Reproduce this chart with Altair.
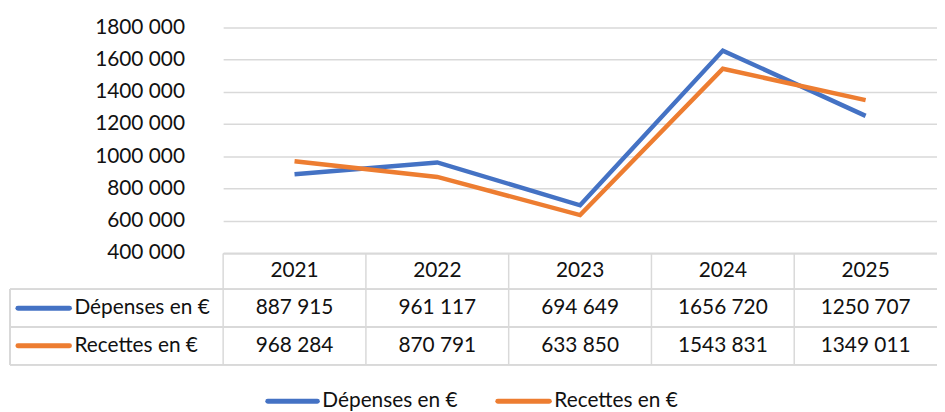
import altair as alt
import pandas as pd

years = ["2021", "2022", "2023", "2024", "2025"]
series = ["Dépenses en €", "Recettes en €"]
depenses = [887915, 961117, 694649, 1656720, 1250707]
recettes = [968284, 870791, 633850, 1543831, 1349011]
y_ticks = [400000, 600000, 800000, 1000000, 1200000, 1400000, 1600000, 1800000]
colors = ["#4472C4", "#ED7D31"]


def fmt(v):
    return f"{v // 1000} {v % 1000:03d}"


rows = []
for s, vals in zip(series, [depenses, recettes]):
    for y, v in zip(years, vals):
        rows.append({"year": y, "series": s, "value": v, "label": fmt(v)})
df = pd.DataFrame(rows)
years_df = pd.DataFrame({"year": years})
series_df = pd.DataFrame({"series": series})

FONT = "Lato"
FS = 21
W, H = 720, 227
GRID = "#d9d9d9"
TXT = "#111111"

xscale = alt.Scale(domain=years, paddingInner=0, paddingOuter=0)
color = alt.Color("series:N", scale=alt.Scale(domain=series, range=colors), legend=None)

base = alt.Chart(df)

lines = base.mark_line(strokeWidth=4.5, clip=False).encode(
    x=alt.X("year:N", scale=xscale, axis=None),
    y=alt.Y("value:Q", scale=alt.Scale(domain=[400000, 1800000], nice=False),
            axis=alt.Axis(values=y_ticks, title=None, domain=False, ticks=False,
                          labelPadding=39, labelFontSize=FS, labelFont=FONT,
                          labelColor=TXT, gridColor=GRID, gridWidth=1.5,
                          labelExpr="floor(datum.value / 1000) + ' 000'")),
    color=color,
    detail="series:N",
)

# Table geometry (pixels relative to plot origin)
HDR_TOP, R1_TOP, R2_TOP, TBL_BOT = 228, 264, 302, 340
HDR_Y, R1_Y, R2_Y = 246, 283, 321
TBL_LEFT = -215
BORDER_W = 1.5

hrule_hdr = alt.Chart(years_df).mark_rule(color=GRID, strokeWidth=BORDER_W).encode(
    x=alt.value(0), x2=alt.value(W), y=alt.value(HDR_TOP))
hrules = alt.layer(*[
    alt.Chart(years_df).mark_rule(color=GRID, strokeWidth=BORDER_W).encode(
        x=alt.value(TBL_LEFT), x2=alt.value(W), y=alt.value(yy))
    for yy in (R1_TOP, R2_TOP, TBL_BOT)
])
vrules = alt.Chart(years_df).mark_rule(color=GRID, strokeWidth=BORDER_W).encode(
    x=alt.X("year:N", scale=xscale, bandPosition=0, axis=None),
    y=alt.value(HDR_TOP), y2=alt.value(TBL_BOT))
vleft = alt.Chart(years_df).mark_rule(color=GRID, strokeWidth=BORDER_W).encode(
    x=alt.value(TBL_LEFT), y=alt.value(R1_TOP), y2=alt.value(TBL_BOT))

hdr_text = alt.Chart(years_df).mark_text(fontSize=FS, font=FONT, color=TXT, baseline="middle").encode(
    x=alt.X("year:N", scale=xscale, axis=None), y=alt.value(HDR_Y), text="year:N")

cell_layers = []
label_layers = []
for s, yy in zip(series, (R1_Y, R2_Y)):
    cell_layers.append(
        base.transform_filter(alt.datum.series == s).mark_text(
            fontSize=FS, font=FONT, color=TXT, baseline="middle").encode(
            x=alt.X("year:N", scale=xscale, axis=None), y=alt.value(yy), text="label:N"))
    sd = series_df[series_df.series == s]
    label_layers.append(
        alt.Chart(sd).mark_rule(strokeWidth=5, strokeCap="round").encode(
            x=alt.value(-207), x2=alt.value(-155), y=alt.value(yy), color=color))
    label_layers.append(
        alt.Chart(sd).mark_text(fontSize=FS, font=FONT, color=TXT, align="left", baseline="middle").encode(
            x=alt.value(-150), y=alt.value(yy), text="series:N"))

# Bottom legend
LEG_Y = 377
legend_layers = []
for s, (lx1, lx2, tx) in zip(series, [(45, 95, 100), (277, 329, 334)]):
    sd = series_df[series_df.series == s]
    legend_layers.append(
        alt.Chart(sd).mark_rule(strokeWidth=5, strokeCap="round").encode(
            x=alt.value(lx1), x2=alt.value(lx2), y=alt.value(LEG_Y), color=color))
    legend_layers.append(
        alt.Chart(sd).mark_text(fontSize=FS, font=FONT, color=TXT, align="left", baseline="middle").encode(
            x=alt.value(tx), y=alt.value(LEG_Y), text="series:N"))

chart = alt.layer(
    lines, hrule_hdr, hrules, vrules, vleft, hdr_text,
    *cell_layers, *label_layers, *legend_layers
).resolve_scale(color="shared").properties(
    width=W, height=H,
    padding={"left": 217, "top": 18, "right": 0, "bottom": 159},
    autosize=alt.AutoSizeParams(type="none"),
).configure_view(stroke=None).configure_axis(grid=True)

chart.save("out.html", embed_options={"renderer": "svg", "actions": False})
